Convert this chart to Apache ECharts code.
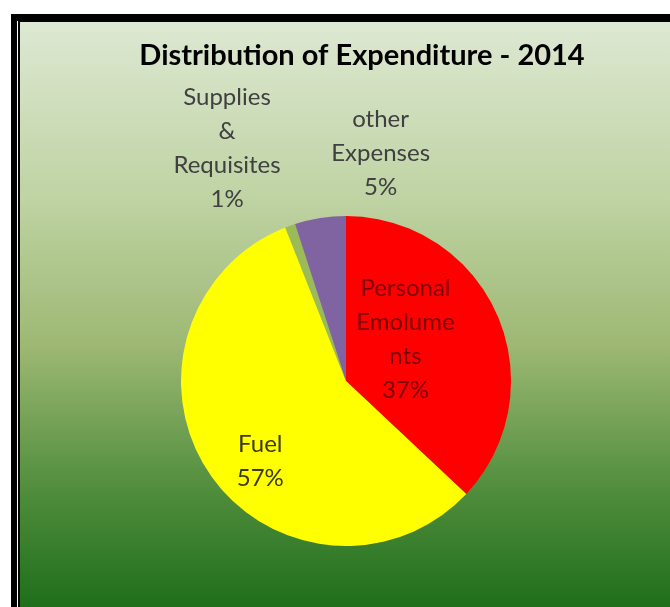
<!DOCTYPE html>
<html>
<head>
<meta charset="utf-8">
<script src="https://cdn.jsdelivr.net/npm/echarts@6/dist/echarts.min.js"></script>
<style>
  html, body { margin: 0; padding: 0; background: #fff; }
  #main { width: 670px; height: 607px; }
</style>
</head>
<body>
<div id="main"></div>
<script>
  // data
  var categories = ['Personal\nEmolume\nnts', 'Fuel', 'Supplies\n&\nRequisites', 'other\nExpenses'];
  var percents = [37, 57, 1, 5];
  var colors = ['#ff0000', '#ffff00', '#9bbb59', '#8064a2'];

  var myChart = echarts.init(document.getElementById('main'));

  var labelFont = 'Lato, "Noto Sans", sans-serif';
  // label offsets per slice (pie label sits at half radius by default)
  var labelOffsets = [[-19, -8], [-15, 32], [-90, -152], [48, -143]];
  var labelColors = ['#7a0000', '#3a3a10', '#404040', '#404040'];

  var pieData = categories.map(function (name, i) {
    return {
      name: name,
      value: percents[i],
      itemStyle: { color: colors[i] },
      label: { offset: labelOffsets[i], color: labelColors[i] }
    };
  });

  var option = {
    backgroundColor: '#ffffff',
    graphic: [
      { type: 'rect', shape: { x: 11, y: 14, width: 670, height: 600 }, style: { fill: '#000' }, silent: true },
      { type: 'rect', shape: { x: 17, y: 21, width: 1, height: 600 }, style: { fill: '#fff' }, silent: true },
      {
        type: 'rect',
        shape: { x: 20, y: 22, width: 660, height: 590 },
        style: {
          fill: new echarts.graphic.LinearGradient(0, 0, 0, 1, [
            { offset: 0, color: '#dde8d2' },
            { offset: 0.3, color: '#bfd3a3' },
            { offset: 0.55, color: '#9db873' },
            { offset: 0.8, color: '#4e8c3b' },
            { offset: 1, color: '#1d6d19' }
          ])
        },
        silent: true
      }
    ],
    title: {
      text: 'Distribution of Expenditure - 2014',
      left: 357,
      textAlign: 'center',
      top: 36,
      textStyle: {
        fontFamily: labelFont,
        fontSize: 29,
        fontWeight: 'bold',
        color: '#000'
      }
    },
    series: [
      {
        type: 'pie',
        center: [346, 381],
        radius: 165,
        startAngle: 90,
        clockwise: true,
        avoidLabelOverlap: false,
        animation: false,
        label: {
          show: true,
          position: 'inside',
          fontFamily: labelFont,
          fontSize: 24,
          lineHeight: 34,
          align: 'center',
          formatter: function (p) {
            return p.name + '\n' + p.value + '%';
          }
        },
        labelLine: { show: false },
        emphasis: { disabled: true },
        data: pieData
      }
    ]
  };
  myChart.setOption(option);
</script>
</body>
</html>
